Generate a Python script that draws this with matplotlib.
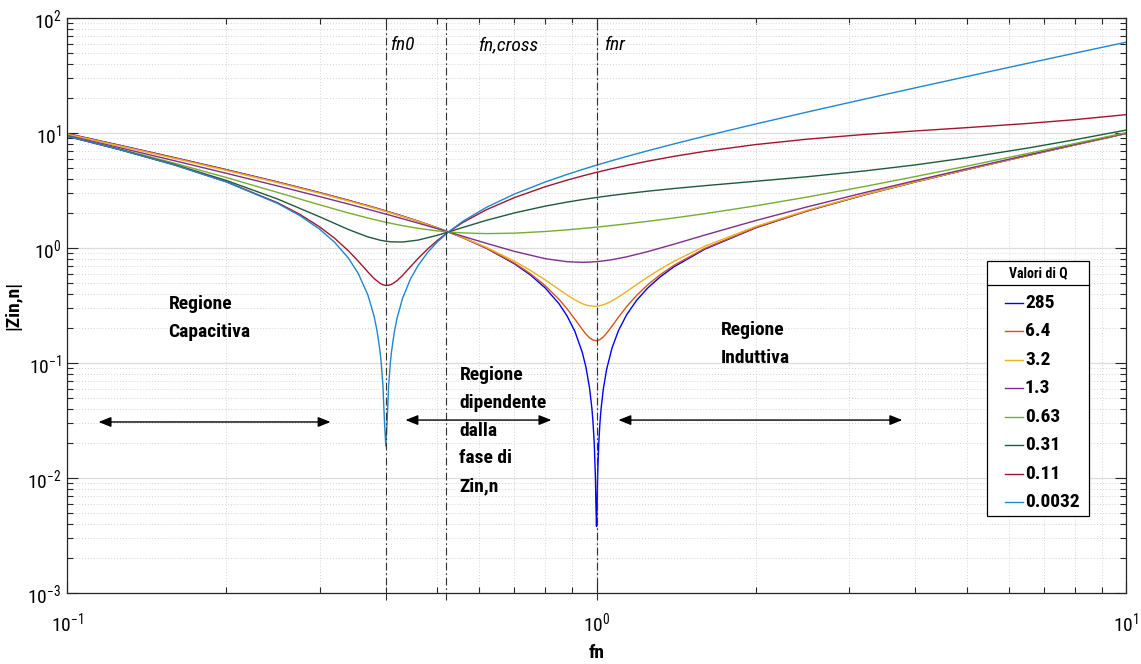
import numpy as np
import matplotlib
matplotlib.use('Agg')
import matplotlib.pyplot as plt
from matplotlib import font_manager
from matplotlib.lines import Line2D
from matplotlib.patches import Rectangle

# narrow Helvetica-like face, as in the MATLAB export
names = {f.name for f in font_manager.fontManager.ttflist}
if 'Roboto Condensed' in names:
    FONT, FS = 'Roboto Condensed', 14
elif 'Liberation Sans Narrow' in names:
    FONT, FS = 'Liberation Sans Narrow', 14
else:
    FONT, FS = 'Liberation Sans', 12.5
plt.rcParams['font.family'] = [FONT, 'DejaVu Sans']
plt.rcParams['mathtext.fontset'] = 'custom'
plt.rcParams['mathtext.rm'] = FONT
plt.rcParams['mathtext.it'] = FONT + ':italic'
plt.rcParams['mathtext.bf'] = FONT + ':bold'

# --- data ---
fn = [0.1, 0.125, 0.16, 0.2, 0.25, 0.3, 0.34, 0.37, 0.39, 0.4, 0.41, 0.43, 0.46,
      0.5, 0.525, 0.56, 0.62, 0.7, 0.8, 0.88, 0.94, 0.97, 1.0, 1.03, 1.07, 1.14,
      1.25, 1.4, 1.6, 2, 2.5, 3.2, 4, 5, 6.5, 8, 10]

z_285 = [9.9, 7.875, 6.09, 4.8, 3.75, 3.033, 2.601, 2.333, 2.174, 2.1, 2.029, 1.896, 1.714,
         1.5, 1.38, 1.226, 0.993, 0.7286, 0.45, 0.2564, 0.1238, 0.0609, 0.0038, 0.0591, 0.1354, 0.2628,
         0.45, 0.6857, 0.975, 1.5, 2.1, 2.888, 3.75, 4.8, 6.346, 7.875, 9.9]
z_6p4 = [9.858, 7.841, 6.064, 4.780, 3.735, 3.022, 2.592, 2.325, 2.168, 2.094, 2.024, 1.891, 1.711,
         1.499, 1.380, 1.227, 0.9977, 0.7387, 0.4708, 0.2957, 0.1962, 0.1659, 0.1562, 0.1686, 0.2095, 0.3092,
         0.4798, 0.7065, 0.9903, 1.510, 2.108, 2.893, 3.754, 4.803, 6.349, 7.877, 9.902]
z_3p2 = [9.765, 7.758, 5.994, 4.723, 3.692, 2.989, 2.566, 2.304, 2.149, 2.077, 2.008, 1.878, 1.702,
         1.495, 1.380, 1.232, 1.012, 0.7677, 0.5281, 0.3901, 0.3282, 0.3141, 0.3119, 0.3209, 0.3469, 0.4184,
         0.5598, 0.7654, 1.035, 1.541, 2.130, 2.910, 3.768, 4.814, 6.357, 7.884, 9.907]
z_1p3 = [9.545, 7.502, 5.722, 4.462, 3.462, 2.800, 2.411, 2.174, 2.036, 1.972, 1.911, 1.798, 1.647,
         1.474, 1.380, 1.263, 1.097, 0.9344, 0.8077, 0.7600, 0.7510, 0.7539, 0.7611, 0.7721, 0.7919, 0.8380,
         0.9307, 1.079, 1.294, 1.734, 2.278, 3.022, 3.855, 4.883, 6.410, 7.927, 9.941]
z_0p63 = [9.428, 7.318, 5.445, 4.098, 3.040, 2.374, 2.018, 1.823, 1.720, 1.675, 1.635, 1.565, 1.483,
          1.409, 1.379, 1.352, 1.334, 1.346, 1.391, 1.438, 1.478, 1.498, 1.519, 1.541, 1.570, 1.622,
          1.706, 1.824, 1.987, 2.328, 2.773, 3.420, 4.179, 5.145, 6.612, 8.092, 10.07]
z_0p31 = [9.389, 7.246, 5.307, 3.863, 2.664, 1.868, 1.448, 1.249, 1.170, 1.146, 1.131, 1.127, 1.171,
          1.288, 1.378, 1.512, 1.742, 2.019, 2.312, 2.507, 2.635, 2.693, 2.749, 2.801, 2.867, 2.973,
          3.120, 3.290, 3.482, 3.805, 4.167, 4.672, 5.278, 6.086, 7.377, 8.732, 10.60]
z_0p11 = [9.377, 7.222, 5.258, 3.766, 2.471, 1.527, 0.9448, 0.6190, 0.4934, 0.4727, 0.4827, 0.5763, 0.8080,
          1.158, 1.377, 1.674, 2.156, 2.745, 3.410, 3.892, 4.229, 4.390, 4.546, 4.698, 4.895, 5.220,
          5.692, 6.264, 6.917, 7.936, 8.839, 9.708, 10.42, 11.13, 12.09, 13.06, 14.44]
z_0p0032 = [9.375, 7.219, 5.250, 3.750, 2.438, 1.458, 0.8162, 0.3904, 0.1273, 0.019, 0.1244, 0.3623, 0.7011,
            1.125, 1.376, 1.714, 2.262, 2.946, 3.750, 4.363, 4.811, 5.031, 5.249, 5.466, 5.752, 6.247,
            7.011, 8.033, 9.372, 11.99, 15.21, 19.66, 24.70, 30.94, 40.24, 49.44, 61.56]

# extra readings where the curves bend sharply (notches near fn0 and fnr)
fn_x285 = [0.75, 0.85, 0.91, 0.955, 0.98, 0.985, 0.99, 0.995, 0.998,
           1.002, 1.005, 1.01, 1.015, 1.02, 1.045, 1.1, 1.19, 1.32]
z_x285 = [0.5833, 0.3265, 0.1889, 0.0922, 0.0405, 0.0304, 0.0204, 0.0106, 0.0053,
          0.0053, 0.0106, 0.0202, 0.0300, 0.0398, 0.0881, 0.1909, 0.3497, 0.5624]
fn_xmid = [0.75, 0.85, 0.91, 0.955, 0.985, 1.015, 1.045, 1.1, 1.19, 1.32]
z_x6p4 = [0.5979, 0.3569, 0.2411, 0.1788, 0.1582, 0.1598, 0.1815, 0.2499, 0.3865, 0.5871]
z_x3p2 = [0.6392, 0.4354, 0.3539, 0.3197, 0.3116, 0.3151, 0.3289, 0.3744, 0.4801, 0.6553]
fn_x0p11 = [0.275, 0.32, 0.355, 0.38, 0.395, 0.405, 0.42, 0.445, 0.48]
z_x0p11 = [1.966, 1.218, 0.7667, 0.5438, 0.4791, 0.4740, 0.5195, 0.6847, 0.9817]
fn_x0p0032 = [0.275, 0.32, 0.355, 0.38, 0.385, 0.392, 0.395, 0.398,
              0.402, 0.405, 0.408, 0.415, 0.42, 0.445, 0.48]
z_x0p0032 = [1.918, 1.125, 0.598, 0.2569, 0.1916, 0.1019, 0.0645, 0.0288,
             0.0287, 0.0637, 0.1001, 0.1847, 0.2445, 0.5343, 0.9165]

q_labels = ['285', '6.4', '3.2', '1.3', '0.63', '0.31', '0.11', '0.0032']
curves = [z_285, z_6p4, z_3p2, z_1p3, z_0p63, z_0p31, z_0p11, z_0p0032]
extras = {'285': (fn_x285, z_x285), '6.4': (fn_xmid, z_x6p4), '3.2': (fn_xmid, z_x3p2),
          '0.11': (fn_x0p11, z_x0p11), '0.0032': (fn_x0p0032, z_x0p0032)}
colors = ['#0000ff', '#d95319', '#edb120', '#7e2f8e', '#77ac30', '#1f5a3a', '#a2142f', '#1f86cf']

fn_markers = [0.4, 0.52, 1.0]
marker_labels = ['fn0', 'fn,cross', 'fnr']
marker_text_x = [0.407, 0.598, 1.035]

fig = plt.figure(figsize=(11.41, 6.64), dpi=100)
ax = fig.add_axes([67 / 1141, 71 / 664, 1059 / 1141, 575 / 664])

for lab, z, c in zip(q_labels, curves, colors):
    x = np.array(fn, dtype=float)
    y = np.array(z, dtype=float)
    if lab in extras:
        ex, ey = extras[lab]
        x = np.concatenate([x, ex])
        y = np.concatenate([y, ey])
    order = np.argsort(x)
    ax.plot(x[order], y[order], color=c, lw=1.0, label=lab, zorder=2)

ax.set_xscale('log')
ax.set_yscale('log')
ax.set_xlim(0.1, 10)
ax.set_ylim(1e-3, 1e2)

# --- grid / ticks, MATLAB look ---
ax.set_axisbelow(True)
ax.grid(True, which='major', color='#dcdcdc', lw=0.9, ls='-')
ax.grid(True, which='minor', color='#d4d4d4', lw=0.7, ls=(0, (1, 2)))
ax.tick_params(which='both', direction='in', top=True, right=True, color='#262626',
               labelsize=FS, labelcolor='black')
ax.tick_params(which='major', length=8, width=0.8)
ax.tick_params(which='minor', length=4, width=0.8)
ax.tick_params(axis='x', which='major', pad=13)
ax.tick_params(axis='y', which='major', pad=4)
for sp in ax.spines.values():
    sp.set_color('#262626')
    sp.set_linewidth(0.9)

# --- vertical dash-dot markers ---
for xv, tx, txt in zip(fn_markers, marker_text_x, marker_labels):
    ax.plot([xv, xv], [8.7e-4, 1e2], color='#303030', lw=0.8,
            ls=(0, (7, 2.5, 1.5, 2.5)), clip_on=False, zorder=3)
    ax.text(tx, 58, txt, fontsize=FS, style='italic', ha='left', va='center')

# --- region notes ---
bold = dict(fontsize=FS, fontweight='bold', ha='left', va='top', linespacing=1.7)
ax.text(0.1555, 0.39, 'Regione\nCapacitiva', **bold)
ax.text(0.551, 0.094, 'Regione\ndipendente\ndalla\nfase di\nZin,n', **bold)
ax.text(1.715, 0.232, 'Regione\nInduttiva', **bold)

arrow = dict(arrowstyle='<|-|>,head_length=0.5,head_width=0.2', color='black', lw=1.0,
             mutation_scale=15, shrinkA=0, shrinkB=0)
ax.annotate('', xy=(0.3146, 0.0307), xytext=(0.1147, 0.0307), arrowprops=arrow)
ax.annotate('', xy=(0.822, 0.0319), xytext=(0.4357, 0.0319), arrowprops=arrow)
ax.annotate('', xy=(3.78, 0.0319), xytext=(1.100, 0.0319), arrowprops=arrow)

ax.set_xlabel('fn', fontsize=FS, fontweight='bold')
ax.set_ylabel('|Zin,n|', fontsize=FS, fontweight='bold')
ax.xaxis.set_label_coords(0.5, -0.089)
ax.yaxis.set_label_coords(-0.043, 0.5)

# --- legend box with a header row, drawn in axes fractions ---
tA = ax.transAxes
lx0, lx1, ly0, ly1 = 0.8687, 0.965, 0.1339, 0.5774
ax.add_patch(Rectangle((lx0, ly0), lx1 - lx0, ly1 - ly0, transform=tA, facecolor='white',
                       edgecolor='black', lw=0.9, zorder=5))
ax.add_line(Line2D([lx0, lx1], [0.5357, 0.5357], transform=tA, color='black', lw=0.9, zorder=6))
ax.text((lx0 + lx1) / 2, 0.5565, 'Valori di Q', transform=tA, fontsize=10, fontweight='bold',
        ha='center', va='center', zorder=6)
for i, (lab, c) in enumerate(zip(q_labels, colors)):
    yy = 0.5043 - i * 0.04944
    ax.add_line(Line2D([0.8857, 0.9027], [yy, yy], transform=tA, color=c, lw=1.0, zorder=6))
    ax.text(0.9046, yy, lab, transform=tA, fontsize=FS, fontweight='bold',
            ha='left', va='center', zorder=6)

fig.savefig('out.png', dpi=100)
